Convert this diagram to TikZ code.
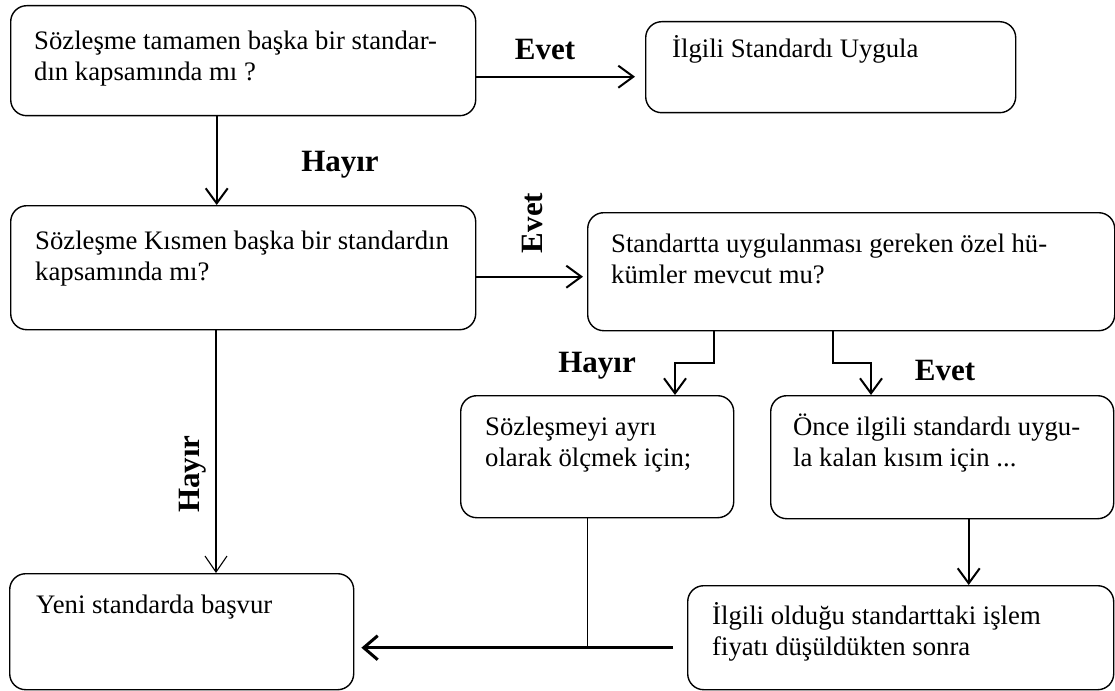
\documentclass[tikz,border=0pt]{standalone}
\usepackage{fontspec}
\setmainfont{Liberation Serif}
\usetikzlibrary{arrows.meta,calc}
\newcommand\bodytext{\fontsize{26.7}{31}\selectfont}
\newcommand\labeltext{\fontsize{31}{36}\selectfont\bfseries}

\begin{document}
\begin{tikzpicture}[x=1pt,y=-1pt,
  box/.style={draw, line width=1.4pt, rounded corners=16pt, anchor=north west, inner sep=0pt},
  txt/.style={anchor=base west, inner sep=0pt, font=\bodytext},
  lbl/.style={inner sep=0pt, font=\labeltext},
  arr/.style={line width=2pt, -{Straight Barb[length=15pt,width=22pt]}},
  thinarr/.style={line width=1.1pt, -{Straight Barb[length=16pt,width=22pt]}},
  bigarr/.style={line width=3pt, -{Straight Barb[length=14pt,width=24pt]}},
  plain/.style={line width=1.3pt}]

\fill[white] (0,0) rectangle (1115,690);
\useasboundingbox (0,0) rectangle (1115,690);

% boxes
\node[box, minimum width=465pt, minimum height=110pt] (b1) at (10,5) {};
\node[box, minimum width=370pt, minimum height=91pt]  (b2) at (645,21) {};
\node[box, minimum width=465pt, minimum height=124pt] (b3) at (10,205) {};
\node[box, minimum width=527pt, minimum height=118pt] (b4) at (587,212) {};
\node[box, minimum width=273pt, minimum height=122pt] (b5) at (460,395) {};
\node[box, minimum width=343pt, minimum height=123pt] (b6) at (770,395) {};
\node[box, minimum width=426pt, minimum height=104pt] (b7) at (687,585) {};
\node[box, minimum width=344pt, minimum height=116pt] (b8) at (9,573) {};

% box texts
\node[txt] (t1) at ($(b1.north west)+(24,45)$) {\parbox[t]{440pt}{\raggedright Sözleşme tamamen başka bir standar-\\dın kapsamında mı ?}};
\node[txt] (t2) at ($(b2.north west)+(27,37)$) {İlgili Standardı Uygula};
\node[txt] (t3) at ($(b3.north west)+(25,44)$) {\parbox[t]{440pt}{\raggedright Sözleşme Kısmen başka bir standardın\\kapsamında mı?}};
\node[txt] (t4) at ($(b4.north west)+(24,40)$) {\parbox[t]{490pt}{\raggedright Standartta uygulanması gereken özel hü-\\kümler mevcut mu?}};
\node[txt] (t5) at ($(b5.north west)+(25,40)$) {\parbox[t]{240pt}{\raggedright Sözleşmeyi ayrı\\olarak ölçmek için;}};
\node[txt] (t6) at ($(b6.north west)+(23,40)$) {\parbox[t]{320pt}{\raggedright Önce ilgili standardı uygu-\\la kalan kısım için ...}};
\node[txt] (t7) at ($(b7.north west)+(25,39)$) {\parbox[t]{400pt}{\raggedright İlgili olduğu standarttaki işlem\\fiyatı düşüldükten sonra}};
\node[txt] (t8) at ($(b8.north west)+(27,40)$) {Yeni standarda başvur};

% junction points of the elbow connectors
\coordinate (jl) at (675,363);
\coordinate (jr) at (871,363);
\coordinate (hb) at (216,412);
\coordinate (e1) at ([yshift=-16pt]b1.east);
\coordinate (e3) at ([yshift=-9pt]b3.east);
\coordinate (e7) at ([yshift=-10pt]b7.west);

% connectors
\draw[arr, shorten >=10pt] (e1) -- (e1 -| b2.west);
\draw[arr] ([xshift=-26.5pt]b1.south) -- ([xshift=-26.5pt]b1.south |- b3.north);
\draw[arr, shorten >=4pt] (e3) -- (e3 -| b4.west);
\draw[line width=2pt] (b3.south -| hb) -- (hb);
\draw[thinarr] (hb) -- (hb |- b8.north);
\draw[arr] ([xshift=-137.5pt]b4.south) |- (jl) -- (jl |- b5.north);
\draw[arr] ([xshift=-18.5pt]b4.south) |- (jr) -- (jr |- b6.north);
\draw[arr] ([xshift=26.5pt]b6.south) -- ([xshift=26.5pt]b6.south |- b7.north);
\draw[plain] ([xshift=-9.5pt]b5.south) -- ([xshift=-9.5pt]b5.south |- e7);
\draw[bigarr, shorten <=14pt, shorten >=7pt] (e7) -- (e7 -| b8.east);

% branch labels
\node[lbl] (l1) at (545,50) {Evet};
\node[lbl] (l2) at (340,165) {Hayır};
\node[lbl, rotate=90] (l3) at (532,223) {Evet};
\node[lbl, rotate=90] (l4) at (193,474) {Hayır};
\node[lbl] (l5) at (597,366) {Hayır};
\node[lbl] (l6) at (945,370) {Evet};
\end{tikzpicture}
\end{document}
